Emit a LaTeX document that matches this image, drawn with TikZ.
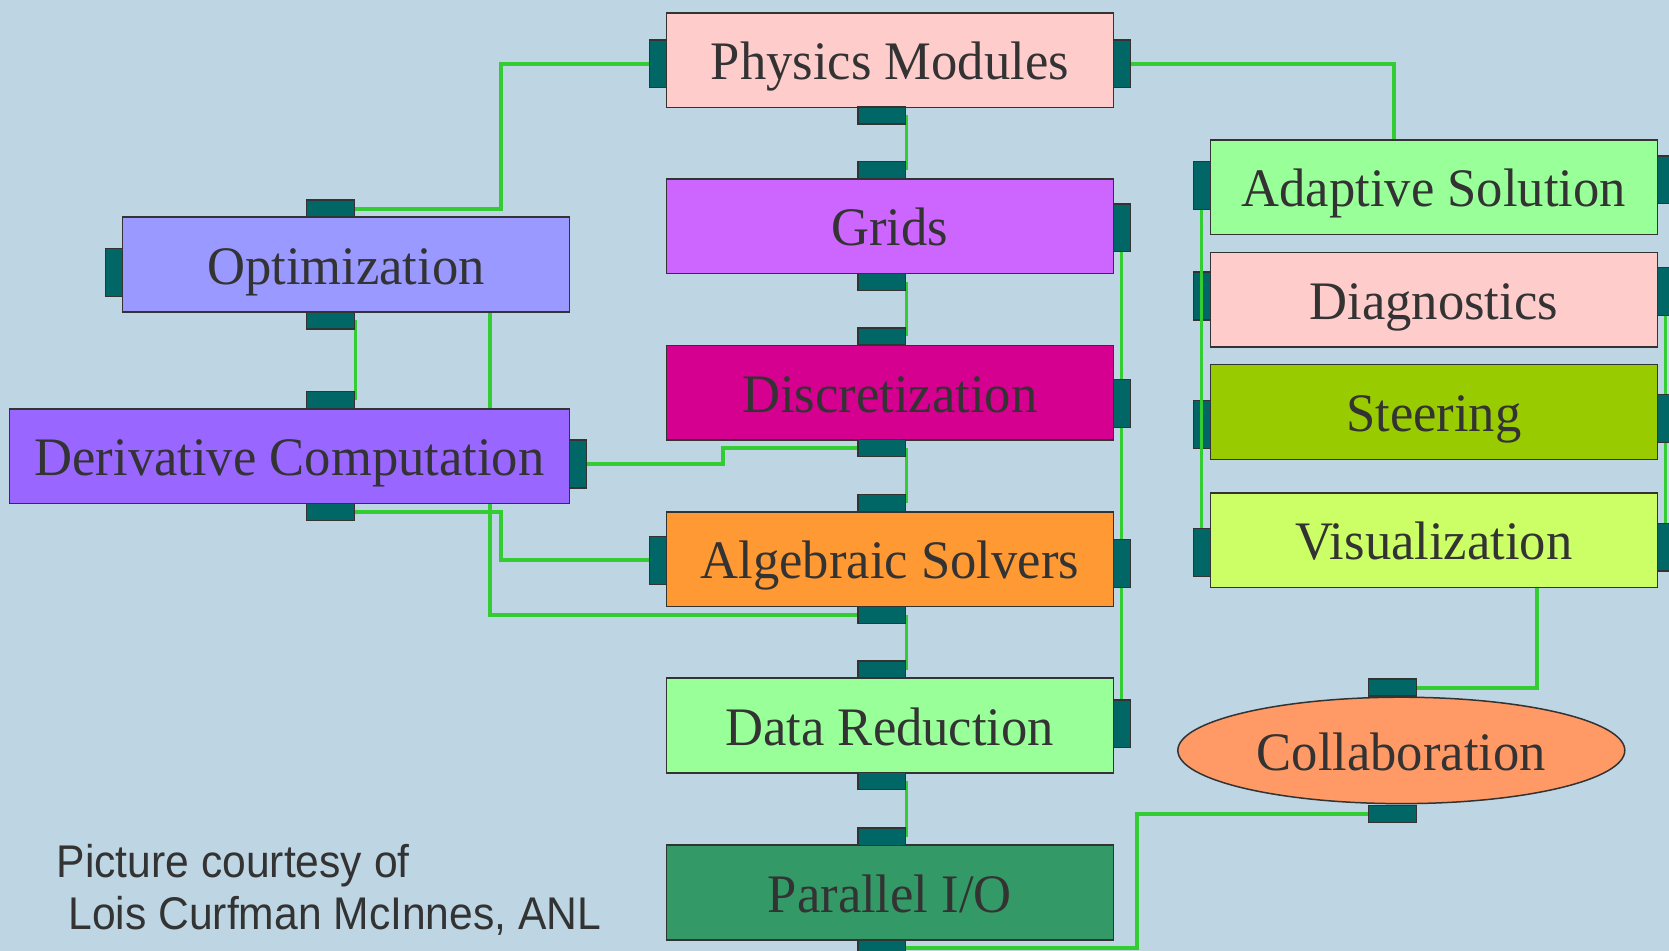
\documentclass[tikz,border=0pt]{standalone}
\usepackage{fontspec}
\setmainfont{Liberation Serif}
\newfontfamily\boxfont[FakeStretch=0.97]{Liberation Serif}
\newfontfamily\credfont[FakeStretch=0.93]{Liberation Sans}
\usetikzlibrary{shapes.geometric,calc}
\definecolor{bgc}{RGB}{190,214,227}
\definecolor{boxline}{RGB}{51,51,51}
\definecolor{txt}{RGB}{51,51,51}
\definecolor{portc}{RGB}{0,102,102}
\definecolor{wiregreen}{RGB}{51,204,51}
\definecolor{cPhys}{HTML}{FFCCCC}
\definecolor{cGrid}{HTML}{CC66FF}
\definecolor{cDisc}{HTML}{D5008F}
\definecolor{cAlg}{HTML}{FF9933}
\definecolor{cData}{HTML}{99FF99}
\definecolor{cPio}{HTML}{339966}
\definecolor{cOpt}{HTML}{9999FF}
\definecolor{cDer}{HTML}{9966FF}
\definecolor{cAdapt}{HTML}{99FF99}
\definecolor{cDiag}{HTML}{FFCCCC}
\definecolor{cSteer}{HTML}{99CC00}
\definecolor{cVis}{HTML}{CCFF66}
\definecolor{cCol}{HTML}{FF9966}
\pgfdeclarelayer{back}
\pgfdeclarelayer{wires}
\pgfdeclarelayer{front}
\pgfsetlayers{back,wires,main,front}
\tikzset{
  box/.style={draw=boxline, line width=0.8pt, minimum width=8.4cm, minimum height=1.78cm,
    inner sep=0pt, font=\boxfont\fontsize{29}{34}\selectfont, text=txt,
    text height=21pt, text depth=0pt},
  hport/.style={draw=boxline, fill=portc, line width=0.7pt, minimum width=0.9cm,
    minimum height=0.32cm, inner sep=0pt},
  vport/.style={draw=boxline, fill=portc, line width=0.7pt, minimum width=0.32cm,
    minimum height=0.9cm, inner sep=0pt},
  wire/.style={draw=wiregreen, line width=2.2pt},
  thinwire/.style={draw=wiregreen, line width=1.7pt},
  cred/.style={anchor=base west, inner sep=0pt, text=txt,
    font=\credfont\fontsize{24.5}{28}\selectfont}
}
\begin{document}
\begin{tikzpicture}[x=0.02cm,y=-0.02cm]
\begin{pgfonlayer}{back}
\fill[bgc] (0,0) rectangle (1568,893);
\end{pgfonlayer}
\useasboundingbox (0,0) rectangle (1568,893);

% boxes
\node[box, fill=cPhys] (phys) at (836,56.5) {Physics Modules};
\node[box, fill=cGrid] (grids) at (836,212.5) {Grids};
\node[box, fill=cDisc] (disc) at (836,369) {Discretization};
\node[box, fill=cAlg] (alg) at (836,525.5) {Algebraic Solvers};
\node[box, fill=cData] (data) at (836,681.5) {Data Reduction};
\node[box, fill=cPio] (pio) at (836,838.5) {Parallel I/O};
\node[box, fill=cOpt] (opt) at (325,248.5) {Optimization};
\node[box, fill=cDer, minimum width=10.52cm] (deriv) at (272,428.5) {Derivative Computation};
\node[box, fill=cAdapt] (adapt) at (1347,176) {Adaptive Solution};
\node[box, fill=cDiag] (diag) at (1347,281.5) {Diagnostics};
\node[box, fill=cSteer] (steer) at (1347,387) {Steering};
\node[box, fill=cVis] (vis) at (1347,507.5) {Visualization};
\node[box, ellipse, fill=cCol, minimum width=8.4cm, minimum height=2cm] (collab) at (1316.5,705) {Collaboration};

% ports
\node[vport] (physL) at (618,60) {};
\node[vport] (physR) at (1054,60) {};
\node[hport] (physB) at (828.5,108.5) {};
\node[hport] (gridsT) at (828.5,160) {};
\node[vport] (gridsR) at (1054,214) {};
\node[hport] (gridsB) at (828.5,265) {};
\node[hport] (discT) at (828.5,316) {};
\node[vport] (discR) at (1054,379) {};
\node[hport] (discB) at (828.5,421) {};
\node[hport] (algT) at (828.5,472.5) {};
\node[vport] (algL) at (618,526.5) {};
\node[vport] (algR) at (1054,529.5) {};
\node[hport] (algB) at (828.5,577.5) {};
\node[hport] (dataT) at (828.5,629) {};
\node[vport] (dataR) at (1054,680) {};
\node[hport] (dataB) at (828.5,733.5) {};
\node[hport] (pioT) at (828.5,786) {};
\node[hport] (pioB) at (828.5,891) {};
\node[hport] (optT) at (310.5,196) {};
\node[vport] (optL) at (107,256) {};
\node[hport] (optB) at (310.5,301) {};
\node[hport] (derivT) at (310.5,376) {};
\node[vport] (derivR) at (543,436) {};
\node[hport] (derivB) at (310.5,481) {};
\node[vport] (adaptL) at (1129,174) {};
\node[vport] (adaptR) at (1565,169) {};
\node[vport] (diagL) at (1129,278) {};
\node[vport] (diagR) at (1565,274) {};
\node[vport] (steerL) at (1129,399) {};
\node[vport] (steerR) at (1565,393) {};
\node[vport] (visL) at (1129,519) {};
\node[vport] (visR) at (1565,514) {};
\node[hport] (colT) at (1308,646) {};
\node[hport] (colB) at (1308,765) {};

% bend columns
\coordinate (k1) at (471,0);
\coordinate (k2) at (1310,0);
\coordinate (k3) at (679,0);
\coordinate (k5) at (460,0);
\coordinate (k6) at (1444,0);
\coordinate (k7) at (1068,0);

\begin{pgfonlayer}{wires}
\draw[wire] (physL.west) -- (physL.west -| k1) -- (optT.east -| k1) -- (optT.east);
\draw[wire] (physR.east) -- (physR.east -| k2) -- (adapt.north -| k2);
\draw[thinwire] (physB.east) -- (gridsT.east);
\draw[thinwire] (gridsB.east) -- (discT.east);
\draw[thinwire] (discB.east) -- (algT.east);
\draw[thinwire] (algB.east) -- (dataT.east);
\draw[thinwire] (dataB.east) -- (pioT.east);
\draw[thinwire] (gridsR.south) -- (dataR.north);
\draw[wire] (derivR.east) -- (derivR.east -| k3) -- (discB.west -| k3) -- (discB.west);
\draw[wire] (derivB.east) -- (derivB.east -| k1) -- (algL.west -| k1) -- (algL.west);
\draw[wire] (opt.south -| k5) -- (algB.west -| k5) -- (algB.west);
\draw[thinwire] (optB.east) -- (derivT.east);
\draw[wire] (vis.south -| k6) -- (colT.east -| k6) -- (colT.east);
\draw[wire] (pioB.east) -- (pioB.east -| k7) -- (colB.west -| k7) -- (colB.west);
\draw[thinwire] (diagR.south) -- (steerR.north);
\draw[thinwire] (steerR.south) -- (visR.north);
\end{pgfonlayer}
\begin{pgfonlayer}{front}
\draw[thinwire] (adaptL.south) -- (visL.north);
\end{pgfonlayer}

% credit
\node[cred] (cred1) at (53,824) {Picture courtesy of};
\node[cred] (cred2) at (64,873) {Lois Curfman McInnes, ANL};
\end{tikzpicture}
\end{document}
